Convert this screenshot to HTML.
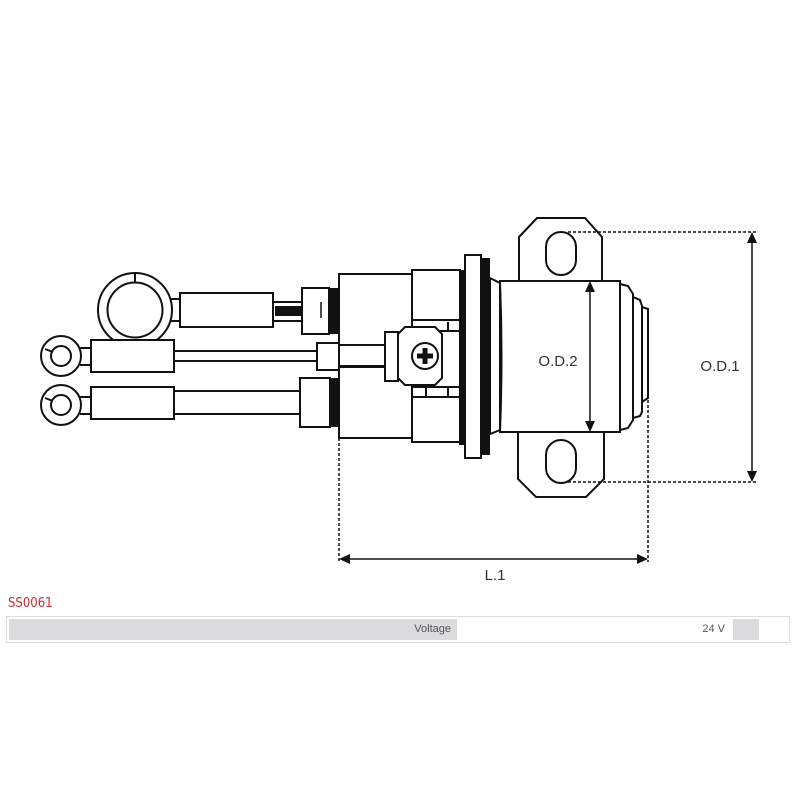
<!DOCTYPE html>
<html><head><meta charset="utf-8"><style>
html,body{margin:0;padding:0;background:#fff;width:800px;height:800px;overflow:hidden;position:relative;font-family:"Liberation Sans","DejaVu Sans",sans-serif}
svg{position:absolute;left:0;top:0}
.t{position:absolute;left:8px;top:596px;color:#d0282e;font-size:13px;font-family:"DejaVu Sans Condensed","Liberation Sans Narrow","Liberation Sans",sans-serif}
.row{position:absolute;left:6px;top:616px;width:782px;height:25px;border:1px solid #ddd;background:#fff}
.c{position:absolute;top:2px;height:21px;font-size:11px;color:#555;line-height:21px;text-align:right;box-sizing:border-box;padding-right:6px}
</style></head><body>
<svg width="800" height="800" viewBox="0 0 800 800" fill="none" stroke="#111" stroke-width="2">
<!-- big ring terminal -->
<circle cx="135" cy="310" r="37" fill="#fff"/>
<circle cx="135" cy="310" r="27.5"/>
<line x1="135" y1="273" x2="135" y2="282"/>
<path d="M171 299 H180 M171 321 H180"/>
<rect x="180" y="293" width="93" height="34" fill="#fff"/>
<path d="M273 302 H302 M273 321 H302"/>
<rect x="275" y="306" width="27" height="10" fill="#111" stroke="none"/>
<rect x="302" y="288" width="27" height="46" fill="#fff"/>
<line x1="321" y1="302" x2="321" y2="318" stroke-width="1.5"/>
<rect x="329" y="288" width="10" height="46" fill="#111" stroke="none"/>
<!-- small ring middle -->
<circle cx="61" cy="356" r="20" fill="#fff"/>
<circle cx="61" cy="356" r="10"/>
<line x1="45" y1="349" x2="53" y2="352"/>
<path d="M80 348 H91 M80 365 H91"/>
<rect x="91" y="340" width="83" height="32" fill="#fff"/>
<path d="M174 351 H317 M174 361 H317"/>
<rect x="317" y="343" width="22" height="27" fill="#fff"/>
<!-- small ring bottom -->
<circle cx="61" cy="405" r="20" fill="#fff"/>
<circle cx="61" cy="405" r="10"/>
<line x1="45" y1="398" x2="53" y2="401"/>
<path d="M80 397 H91 M80 414 H91"/>
<rect x="91" y="387" width="83" height="32" fill="#fff"/>
<path d="M174 391 H300 M174 414 H300"/>
<rect x="300" y="378" width="30" height="49" fill="#fff"/>
<rect x="330" y="378" width="9" height="49" fill="#111" stroke="none"/>
<!-- blocks -->
<rect x="339" y="274" width="73" height="71" fill="#fff"/>
<rect x="339" y="367" width="73" height="71" fill="#fff"/>
<path d="M339 345 H385 M339 366 H385"/>
<rect x="412" y="270" width="48" height="172" fill="#fff"/>
<path d="M412 320 H460 M412 397 H460 M412 331 H460 M412 387 H460 M426 387 V397 M448 322 V330 M448 388 V396"/>
<rect x="385" y="332" width="13" height="49" fill="#fff"/>
<polygon points="405,327 435,327 442,334 442,378 435,385 405,385 398,378 398,334" fill="#fff"/>
<circle cx="425" cy="356" r="13"/>
<path d="M425 348 V364 M417 356 H433" stroke-width="5"/>
<!-- flange -->
<rect x="459" y="270" width="5" height="175" fill="#111" stroke="none"/>
<rect x="465" y="255" width="16" height="203" fill="#fff"/>
<rect x="481" y="258" width="9" height="197" fill="#111" stroke="none"/>
<polygon points="490,278 500,283 500,430 490,434" fill="#fff"/>
<!-- tabs -->
<polygon points="519,237 537,218 585,218 602,237 602,282 519,282" fill="#fff"/>
<rect x="546" y="232" width="30" height="43" rx="15" fill="#fff"/>
<polygon points="518,431 604,431 604,479 586,497 536,497 518,479" fill="#fff"/>
<rect x="546" y="440" width="30" height="43" rx="15" fill="#fff"/>
<!-- body -->
<rect x="500" y="281" width="120" height="151" fill="#fff"/>
<path d="M500 281 Q503 356 500 432"/>
<polygon points="620,284 628,286 633,294 633,420 628,428 620,430" fill="#fff"/>
<polygon points="633,297 640,300 642,306 642,412 640,416 633,418" fill="#fff"/>
<polygon points="642,307 648,309 648,398 642,402" fill="#fff"/>
<!-- dims -->
<g stroke-width="1.5" stroke-dasharray="3,2">
<path d="M568 232 H757 M568 482 H757 M648 400 V562 M339 438 V562"/>
</g>
<g stroke-width="1.5">
<path d="M590 290 V424 M752 240 V474 M347 559 H640"/>
</g>
<g fill="#111" stroke="none">
<polygon points="590,281 585,292 595,292"/><polygon points="590,432 585,421 595,421"/>
<polygon points="752,232 747,243 757,243"/><polygon points="752,482 747,471 757,471"/>
<polygon points="339,559 350,554 350,564"/><polygon points="648,559 637,554 637,564"/>
</g>
<g fill="#333" stroke="none" font-size="15" font-family="Liberation Sans,sans-serif">
<text x="558" y="366" text-anchor="middle">O.D.2</text>
<text x="720" y="371" text-anchor="middle">O.D.1</text>
<text x="495" y="580" text-anchor="middle">L.1</text>
</g>
</svg>
<div class="t">SS0061</div>
<div class="row">
<div class="c" style="left:2px;width:448px;background:#dcdcdf">Voltage</div>
<div class="c" style="left:452px;width:272px;background:#fff">24 V</div>
<div class="c" style="left:726px;width:26px;background:#dcdcdf"></div>
</div>
</body></html>
